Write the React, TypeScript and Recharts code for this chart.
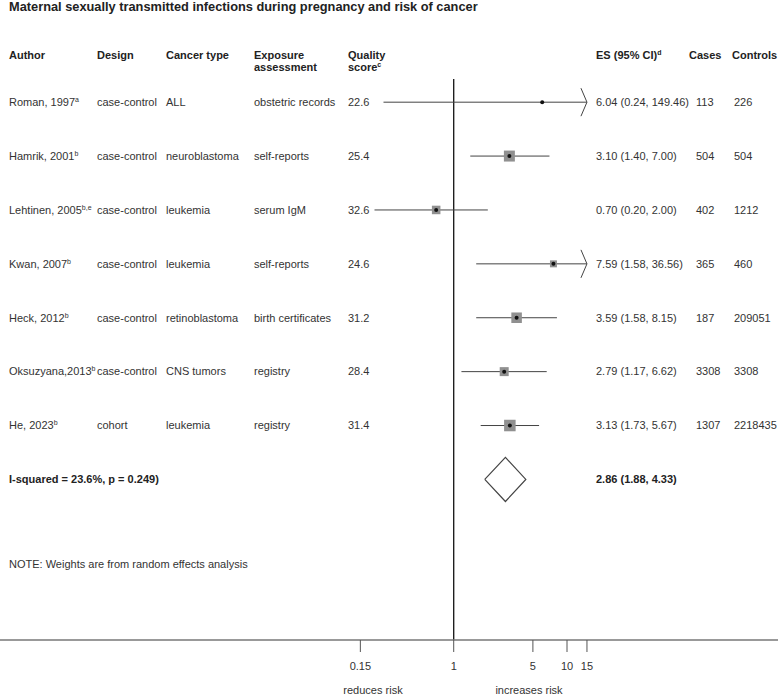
import { ScatterChart, Scatter, XAxis, YAxis, ReferenceLine } from "recharts";

const authors = ["Roman, 1997", "Hamrik, 2001", "Lehtinen, 2005", "Kwan, 2007", "Heck, 2012", "Oksuzyana,2013", "He, 2023"];
const authorNotes = ["a", "b", "b,e", "b", "b", "b", "b"];
const designs = ["case-control", "case-control", "case-control", "case-control", "case-control", "case-control", "cohort"];
const cancerTypes = ["ALL", "neuroblastoma", "leukemia", "leukemia", "retinoblastoma", "CNS tumors", "leukemia"];
const exposures = ["obstetric records", "self-reports", "serum IgM", "self-reports", "birth certificates", "registry", "registry"];
const qualityScores = ["22.6", "25.4", "32.6", "24.6", "31.2", "28.4", "31.4"];
const es = [6.04, 3.1, 0.7, 7.59, 3.59, 2.79, 3.13];
const ciLow = [0.24, 1.4, 0.2, 1.58, 1.58, 1.17, 1.73];
const ciHigh = [149.46, 7.0, 2.0, 36.56, 8.15, 6.62, 5.67];
const cases = [113, 504, 402, 365, 187, 3308, 1307];
const controls = [226, 504, 1212, 460, 209051, 3308, 2218435];
// approx. random-effects weights (%), only used for marker size
const weights = [1.1, 21.1, 12.7, 8.5, 19.4, 14.1, 23.2];

const pooled = { es: 2.86, lo: 1.88, hi: 4.33 };
const heterogeneity = "I-squared = 23.6%, p = 0.249)";
const axisTicks = [0.15, 1, 5, 10, 15];
const clipMax = 15;

const FONT = "Arial, 'Liberation Sans', Helvetica, sans-serif";
const TEXT = "#333";
const LINE = "#444";

const pooledRow = authors.length;
const diamondHalf = 0.41;

const fmt = (v: number) => v.toFixed(2);

const pointData = es.map((v, i) => ({ x: v, y: i, w: weights[i] }));
const ciData = es.map((_, i) => [
  { x: ciLow[i], y: i, clipped: false },
  { x: Math.min(ciHigh[i], clipMax), y: i, clipped: ciHigh[i] > clipMax },
]);
const labelData = authors.map((_, i) => ({ x: 1, y: i, i }));
const pooledLabel = [{ x: 1, y: pooledRow, i: -1 }];
const diamond = [
  { x: pooled.lo, y: pooledRow },
  { x: pooled.es, y: pooledRow - diamondHalf },
  { x: pooled.hi, y: pooledRow },
  { x: pooled.es, y: pooledRow + diamondHalf },
  { x: pooled.lo, y: pooledRow },
];

const cols = { author: 9, design: 97, cancer: 166, exposure: 254, quality: 348, es: 596, cases: 696, controls: 734 };
const headCols = { cases: 689, controls: 732 };

function Sup({ children }: { children: string }) {
  return (
    <tspan fontSize={7} dy={-4}>
      {children}
    </tspan>
  );
}

function EndShape(props: any) {
  const { cx, cy, payload } = props;
  if (!payload || !payload.clipped) return <g />;
  return (
    <polyline
      points={`${cx - 6},${cy - 14} ${cx},${cy} ${cx - 6},${cy + 14}`}
      fill="none"
      stroke={LINE}
      strokeWidth={1}
    />
  );
}

function PointShape(props: any) {
  const { cx, cy, payload } = props;
  const s = 2.39 * Math.sqrt(payload.w);
  return (
    <g>
      <rect x={cx - s / 2} y={cy - s / 2} width={s} height={s} fill="#909090" />
      <circle cx={cx} cy={cy} r={2} fill="#111" />
    </g>
  );
}

function RowLabels(props: any) {
  const { cy, payload } = props;
  const i = payload.i;
  const t = { fontFamily: FONT, fontSize: 11, fill: TEXT, dy: "0.35em" };
  if (i < 0) {
    return (
      <g>
        <text x={cols.author} y={cy} {...t} fontWeight="bold" fill="#222">
          {heterogeneity}
        </text>
        <text x={cols.es} y={cy} {...t} fontWeight="bold" fill="#222">
          {`${fmt(pooled.es)} (${fmt(pooled.lo)}, ${fmt(pooled.hi)})`}
        </text>
      </g>
    );
  }
  return (
    <g>
      <text x={cols.author} y={cy} {...t}>
        {authors[i]}
        <Sup>{authorNotes[i]}</Sup>
      </text>
      <text x={cols.design} y={cy} {...t}>{designs[i]}</text>
      <text x={cols.cancer} y={cy} {...t}>{cancerTypes[i]}</text>
      <text x={cols.exposure} y={cy} {...t}>{exposures[i]}</text>
      <text x={cols.quality} y={cy} {...t}>{qualityScores[i]}</text>
      <text x={cols.es} y={cy} {...t}>{`${fmt(es[i])} (${fmt(ciLow[i])}, ${fmt(ciHigh[i])})`}</text>
      <text x={cols.cases} y={cy} {...t}>{cases[i]}</text>
      <text x={cols.controls} y={cy} {...t}>{controls[i]}</text>
    </g>
  );
}

export default function App() {
  const head = { fontFamily: FONT, fontSize: 11, fontWeight: "bold" as const, fill: "#222" };
  return (
    <div style={{ position: "absolute", left: 0, top: 0, width: 778, height: 695, background: "#fff" }}>
      <ScatterChart width={778} height={695} margin={{ top: 79, right: 0, bottom: 0, left: 0 }}>
        <XAxis
          type="number"
          dataKey="x"
          scale="log"
          domain={[9.9e-5, 728]}
          allowDataOverflow
          ticks={axisTicks}
          tickFormatter={(v) => String(v)}
          height={55}
          tickSize={12}
          tickMargin={10}
          axisLine={{ stroke: "#777", strokeWidth: 1.5 }}
          tickLine={{ stroke: "#555", strokeWidth: 1 }}
          tick={{ fontFamily: FONT, fontSize: 11, fill: TEXT }}
        />
        <YAxis type="number" dataKey="y" domain={[-0.43, 9.98]} reversed hide allowDataOverflow />
        <ReferenceLine x={1} stroke="#111" strokeWidth={1.3} />
        {ciData.map((d, i) => (
          <Scatter
            key={i}
            data={d}
            line={{ stroke: LINE, strokeWidth: 1 }}
            lineType="joint"
            shape={EndShape}
            isAnimationActive={false}
          />
        ))}
        <Scatter data={pointData} shape={PointShape} isAnimationActive={false} />
        <Scatter
          data={diamond}
          line={{ stroke: LINE, strokeWidth: 1.2 }}
          lineType="joint"
          shape={() => <g />}
          isAnimationActive={false}
        />
        <Scatter data={labelData} shape={RowLabels} isAnimationActive={false} />
        <Scatter data={pooledLabel} shape={RowLabels} isAnimationActive={false} />
      </ScatterChart>
      <svg width={778} height={695} style={{ position: "absolute", left: 0, top: 0, pointerEvents: "none" }}>
        <text x={9} y={11} {...head} fontSize={12.8}>
          Maternal sexually transmitted infections during pregnancy and risk of cancer
        </text>
        <text x={cols.author} y={59} {...head}>Author</text>
        <text x={cols.design} y={59} {...head}>Design</text>
        <text x={cols.cancer} y={59} {...head}>Cancer type</text>
        <text x={cols.exposure} y={59} {...head}>Exposure</text>
        <text x={cols.exposure} y={71} {...head}>assessment</text>
        <text x={cols.quality} y={59} {...head}>Quality</text>
        <text x={cols.quality} y={71} {...head}>
          score<Sup>c</Sup>
        </text>
        <text x={cols.es} y={59} {...head}>
          ES (95% CI)<Sup>d</Sup>
        </text>
        <text x={headCols.cases} y={59} {...head}>Cases</text>
        <text x={headCols.controls} y={59} {...head}>Controls</text>
        <text x={9} y={568} fontFamily={FONT} fontSize={11} fill={TEXT}>
          NOTE: Weights are from random effects analysis
        </text>
        <text x={373} y={694} fontFamily={FONT} fontSize={11} fill={TEXT} textAnchor="middle">
          reduces risk
        </text>
        <text x={529} y={694} fontFamily={FONT} fontSize={11} fill={TEXT} textAnchor="middle">
          increases risk
        </text>
      </svg>
    </div>
  );
}
